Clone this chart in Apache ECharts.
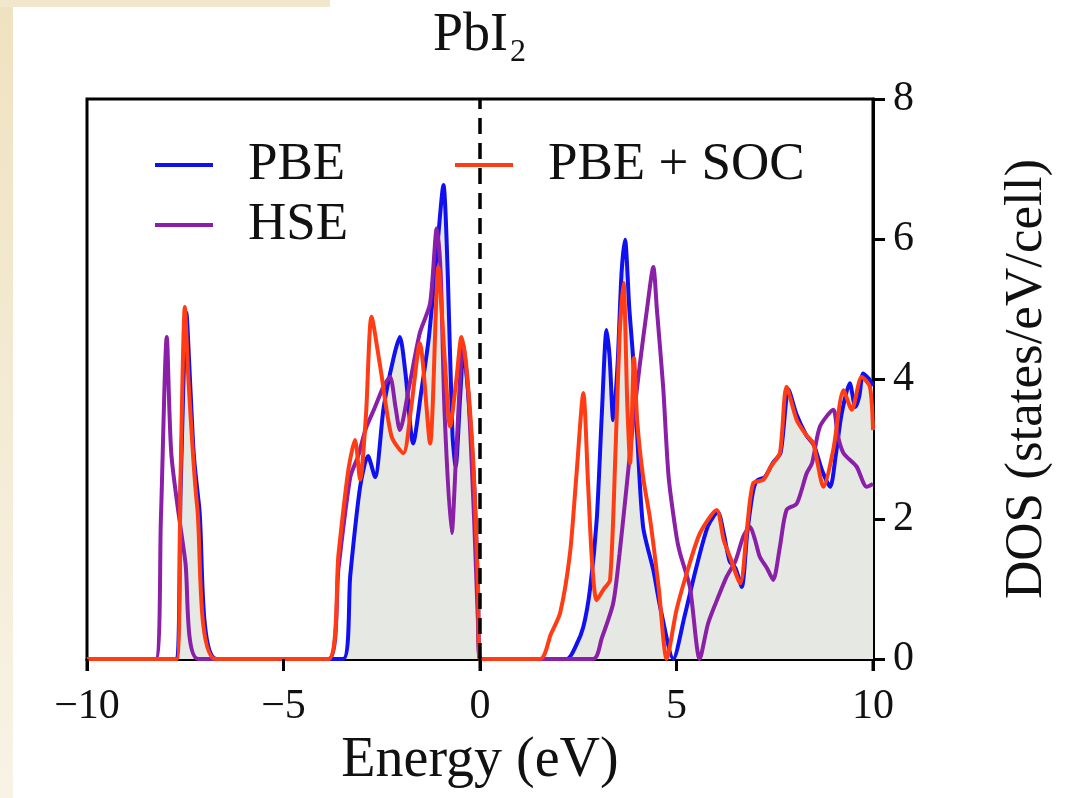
<!DOCTYPE html>
<html>
<head>
<meta charset="utf-8">
<script src="https://cdn.jsdelivr.net/npm/echarts@6/dist/echarts.min.js"></script>
<style>
    html, body { margin: 0; padding: 0; background: #fff; }
    #chart { width: 1071px; height: 798px; }
</style>
</head>
<body>
<div id="chart"></div>
<script>
// energy (eV) and DOS (states/eV/cell)
var pbeE = [-10, -7.75, -7.62, -7.47, -7.38, -7.28, -7.15, -6.7, -3.48, -3.3, -3.05, -2.85, -2.67, -2.45, -2.2, -2.04, -1.9, -1.7, -1.5, -1.3, -1.1, -0.93, -0.82, -0.7, -0.62, -0.5, -0.42, -0.3, -0.15, -0.05, 0,
    2.21, 2.45, 2.63, 2.8, 2.97, 3.1, 3.22, 3.3, 3.39, 3.5, 3.6, 3.69, 3.8, 3.9, 4.0, 4.15, 4.41, 4.6, 4.92, 5.2, 5.5, 5.8, 6.05, 6.2, 6.35, 6.5, 6.66, 6.8, 6.95, 7.05, 7.25, 7.45, 7.65, 7.85, 8.05, 8.3, 8.5, 8.7, 8.91, 9.05, 9.2, 9.41, 9.55, 9.65, 9.75, 9.9, 10];
var pbeDos = [0, 0, 2.4, 4.95, 4.0, 2.9, 2.2, 0, 0, 1.2, 2.46, 2.9, 2.6, 3.6, 4.3, 4.6, 4.1, 3.08, 3.8, 4.6, 5.8, 6.77, 5.5, 3.2, 2.75, 3.8, 4.4, 3.8, 2.5, 1.0, 0,
    0, 0.2, 0.46, 1.0, 1.99, 3.5, 4.7, 4.3, 3.41, 4.2, 5.5, 5.99, 5.0, 4.27, 3.2, 1.89, 1.27, 0.7, 0, 0.6, 1.3, 1.9, 2.1, 1.8, 1.4, 1.3, 1.03, 1.8, 2.4, 2.55, 2.6, 2.8, 2.95, 3.85, 3.5, 3.2, 3.05, 2.7, 2.46, 2.9, 3.5, 3.94, 3.6, 3.75, 4.08, 4.0, 3.9];

var hseE = [-10, -8.25, -8.12, -7.97, -7.85, -7.5, -7.17, -3.85, -3.6, -3.3, -3.1, -2.9, -2.67, -2.45, -2.29, -2.15, -2.04, -1.8, -1.53, -1.27, -1.1, -1.0, -0.9, -0.72, -0.6, -0.43, -0.3, -0.15, -0.05, 0,
    2.88, 3.1, 3.39, 3.55, 3.73, 3.9, 4.07, 4.25, 4.41, 4.5, 4.66, 4.8, 5.0, 5.09, 5.34, 5.59, 5.8, 6.0, 6.28, 6.5, 6.7, 6.87, 7.0, 7.12, 7.3, 7.46, 7.63, 7.8, 8.06, 8.31, 8.45, 8.65, 8.99, 9.1, 9.25, 9.58, 9.84, 10];
var hseDos = [0, 0, 2.0, 4.6, 2.9, 1.4, 0, 0, 1.3, 2.6, 2.9, 3.3, 3.6, 3.9, 4.03, 3.6, 3.27, 3.9, 4.66, 5.08, 6.15, 5.5, 3.5, 1.8, 3.0, 4.5, 3.8, 2.0, 0.5, 0,
    0, 0.3, 0.8, 1.5, 2.46, 3.4, 4.22, 5.0, 5.6, 5.0, 3.89, 2.6, 1.75, 1.51, 1.03, 0, 0.5, 0.8, 1.18, 1.4, 1.75, 1.89, 1.7, 1.46, 1.3, 1.13, 1.6, 2.13, 2.22, 2.65, 2.8, 3.32, 3.56, 3.2, 2.94, 2.75, 2.46, 2.5];

var socE = [-10, -7.72, -7.62, -7.51, -7.42, -7.3, -7.2, -6.72, -3.86, -3.6, -3.35, -3.18, -3.05, -2.9, -2.76, -2.54, -2.25, -1.95, -1.75, -1.53, -1.27, -1.06, -0.9, -0.76, -0.6, -0.47, -0.35, -0.17, -0.05, 0,
    1.53, 1.8, 2.04, 2.29, 2.45, 2.63, 2.75, 2.85, 2.97, 3.15, 3.31, 3.45, 3.55, 3.65, 3.75, 3.82, 3.92, 4.0, 4.15, 4.33, 4.55, 4.75, 5.0, 5.3, 5.6, 6.02, 6.2, 6.36, 6.62, 6.8, 6.95, 7.21, 7.4, 7.63, 7.8, 8.06, 8.3, 8.48, 8.74, 8.99, 9.25, 9.46, 9.71, 9.92, 10];
var socDos = [0, 0, 2.6, 5.03, 4.0, 2.9, 2.2, 0, 0, 1.5, 2.7, 3.13, 2.56, 3.5, 4.89, 4.18, 3.18, 2.94, 3.6, 4.51, 3.08, 5.6, 4.3, 3.32, 4.0, 4.6, 4.2, 2.8, 1.0, 0,
    0, 0.35, 0.66, 1.51, 2.6, 3.8, 2.5, 1.4, 0.84, 1.0, 1.13, 3.0, 4.6, 5.37, 3.6, 2.8, 4.3, 3.4, 2.6, 1.99, 1.0, 0, 0.7, 1.3, 1.8, 2.13, 1.7, 1.46, 1.08, 1.9, 2.51, 2.56, 2.75, 2.94, 3.89, 3.41, 3.2, 3.08, 2.46, 2.99, 3.84, 3.56, 4.03, 3.89, 3.27];

// Fermi level marker
var fermiE = [0, 0];
var fermiDos = [0, 8];

var xTicks = [-10, -5, 0, 5, 10];

var serif = 'Liberation Serif';

var zip = function (xs, ys) {
    var out = [];
    for (var i = 0; i < xs.length; i++) {
        out.push([xs[i], ys[i]]);
    }
    return out;
};

var lineSeries = function (name, color, xs, ys) {
    return {
        name: name,
        type: 'line',
        data: zip(xs, ys),
        showSymbol: false,
        smooth: 0.25,
        lineStyle: {width: 4, color: color},
        itemStyle: {color: color}
    };
};

var chart = echarts.init(document.getElementById('chart'));

var pbe = lineSeries('PBE', '#1010f0', pbeE, pbeDos);
pbe.areaStyle = {color: '#e6e8e3', opacity: 1};
var hse = lineSeries('HSE', '#8a1fa8', hseE, hseDos);
var soc = lineSeries('PBE + SOC', '#ff3c14', socE, socDos);
var fermi = {
    name: 'EF',
    type: 'line',
    data: zip(fermiE, fermiDos),
    showSymbol: false,
    silent: true,
    z: 5,
    lineStyle: {color: '#000', width: 3.5, type: [16, 9]}
};

var legendText = {fontFamily: serif, fontSize: 53, lineHeight: 54, color: '#111', padding: [0, 0, 0, 30]};
var tickStyle = {show: true, inside: false, length: 12, lineStyle: {color: '#000', width: 3}};

var bgGraphics = [
    {type: 'rect', left: 0, top: 0, z: -10, shape: {width: 13, height: 798},
        style: {fill: new echarts.graphic.LinearGradient(0, 0, 0, 1, [
            {offset: 0, color: '#efe2c0'}, {offset: 1, color: '#f8f3e6'}])}},
    {type: 'rect', left: 0, top: 0, z: -10, shape: {width: 330, height: 7},
        style: {fill: '#f1e7cc'}}
];

var option = {
    animation: false,
    backgroundColor: '#fff',
    graphic: bgGraphics,
    title: {
        text: 'PbI{s|2}',
        left: 428,
        top: -2,
        textStyle: {
            fontFamily: serif, fontSize: 54, fontWeight: 'normal', color: '#111',
            rich: {s: {fontFamily: serif, fontSize: 32, color: '#111', padding: [34, 0, 0, 2]}}
        }
    },
    legend: [{
        data: ['PBE', 'HSE'],
        orient: 'vertical',
        left: 150,
        top: 133,
        icon: 'rect',
        itemWidth: 58,
        itemHeight: 4,
        itemGap: 6,
        textStyle: legendText
    }, {
        data: ['PBE + SOC'],
        orient: 'vertical',
        left: 450,
        top: 133,
        icon: 'rect',
        itemWidth: 58,
        itemHeight: 4,
        textStyle: legendText
    }],
    grid: {
        left: 87, right: 198, top: 99, bottom: 139,
        show: true, borderColor: '#000', borderWidth: 3, backgroundColor: 'transparent'
    },
    xAxis: {
        type: 'value',
        position: 'bottom',
        min: -10, max: 10, interval: 5,
        name: 'Energy (eV)',
        nameLocation: 'middle',
        nameGap: 73,
        nameTextStyle: {fontFamily: serif, fontSize: 56, color: '#111'},
        splitLine: {show: false},
        axisLine: {show: true, onZero: false, lineStyle: {color: '#000', width: 3}},
        axisTick: tickStyle,
        axisLabel: {
            fontFamily: serif, fontSize: 42, color: '#111', margin: 27,
            formatter: function (v) { return v < 0 ? '\u2212' + Math.abs(v) : String(v); }
        }
    },
    yAxis: {
        type: 'value',
        position: 'right',
        min: 0, max: 8, interval: 2,
        name: 'DOS (states/eV/cell)',
        nameLocation: 'middle',
        nameRotate: 90,
        nameGap: 128,
        nameTextStyle: {fontFamily: serif, fontSize: 53, color: '#111'},
        splitLine: {show: false},
        axisLine: {show: true, onZero: false, lineStyle: {color: '#000', width: 3}},
        axisTick: tickStyle,
        axisLabel: {fontFamily: serif, fontSize: 42, color: '#111', margin: 20}
    },
    series: [pbe, hse, soc, fermi]
};

chart.setOption(option);

// energy-axis ticks placed through the axis scale
var y0 = chart.convertToPixel({yAxisIndex: 0}, 0);
var tickMarks = [];
for (var i = 0; i < xTicks.length; i++) {
    var px = chart.convertToPixel({xAxisIndex: 0}, xTicks[i]);
    tickMarks.push({
        type: 'line', z: 50,
        shape: {x1: px, y1: y0, x2: px, y2: y0 + 12},
        style: {stroke: '#000', lineWidth: 3}
    });
}
chart.setOption({graphic: bgGraphics.concat(tickMarks)});
</script>
</body>
</html>
